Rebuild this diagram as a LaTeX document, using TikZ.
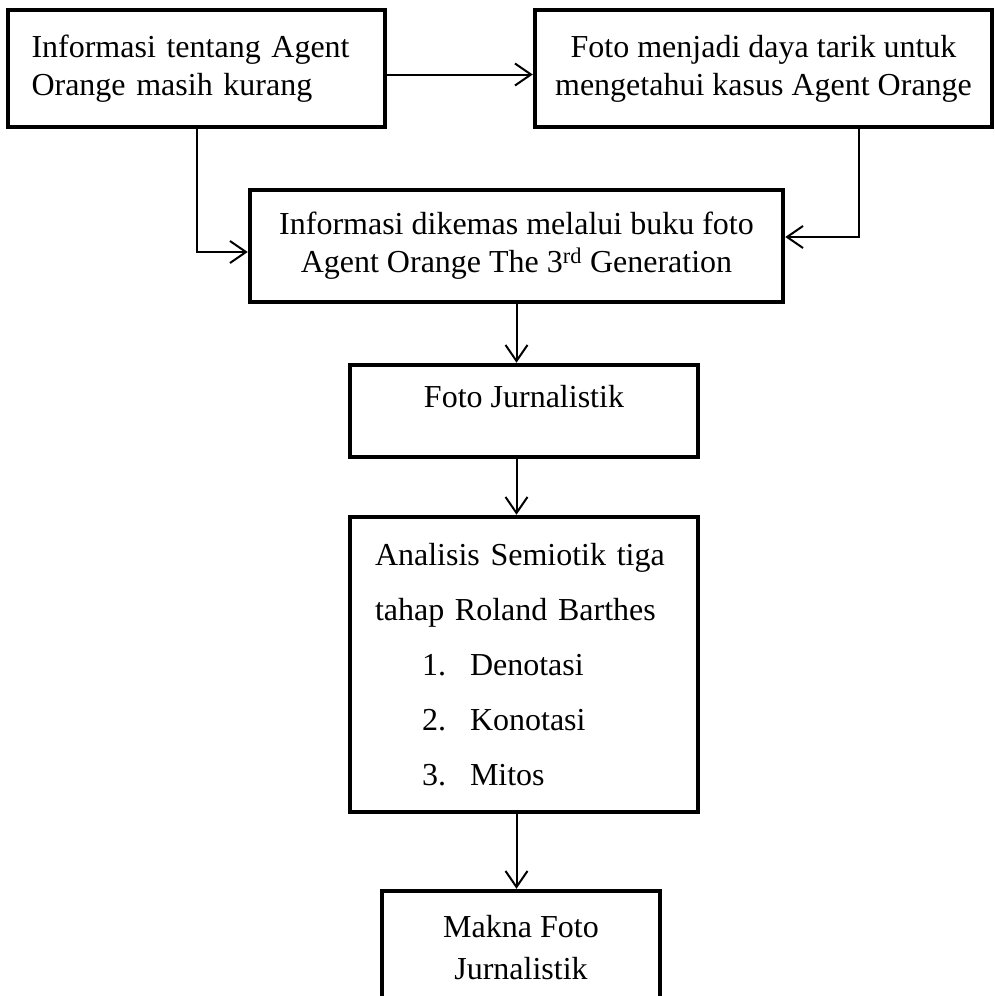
\documentclass[tikz,border=0pt]{standalone}
\usepackage{fontspec}
\setmainfont{Liberation Serif}
\usepackage{tikz}
\usetikzlibrary{arrows.meta, positioning, calc}

\begin{document}
\begin{tikzpicture}[
  x=1pt, y=-1pt,
  flowbox/.style={draw, line width=4.5pt, align=center, inner sep=0pt, font=\fontsize{32}{38}\selectfont},
  flowarrow/.style={-{Straight Barb[length=16pt, width=22pt]}, line width=2pt}
]
  \useasboundingbox (0,0) rectangle (994,996);

  % Top row
  \node[flowbox, minimum width=377pt, minimum height=117pt, text width=330pt, align=left] (info) at (196.5, 68.5) {Informasi tentang Agent\\Orange masih kurang};
  \node[flowbox, minimum width=457pt, minimum height=117pt] (foto) at (763.5, 68.5) {Foto menjadi daya tarik untuk\\mengetahui kasus Agent Orange};

  % Main column
  \node[flowbox, minimum width=533pt, minimum height=112pt] (kemas) at (516.5, 246) {Informasi dikemas melalui buku foto\\Agent Orange The 3\textsuperscript{rd} Generation};
  \node[flowbox, minimum width=348pt, minimum height=92pt, text depth=30pt] (jurnal) at (524, 411) {Foto Jurnalistik};
  \node[flowbox, minimum width=348pt, minimum height=295pt, text width=298pt, align=left, font=\fontsize{32}{55}\selectfont] (semiotik) at (524, 664.5) {Analisis Semiotik tiga\\
    \makebox[288pt][s]{tahap Roland Barthes}\\
    \hspace*{47pt}\makebox[48pt][l]{1.}Denotasi\\
    \hspace*{47pt}\makebox[48pt][l]{2.}Konotasi\\
    \hspace*{47pt}\makebox[48pt][l]{3.}Mitos};
  \node[flowbox, minimum width=278pt, minimum height=114pt, font=\fontsize{32}{42}\selectfont] (makna) at (521, 948) {Makna Foto\\Jurnalistik};

  \draw[flowarrow] ([yshift=-6pt]info.east) -- ([yshift=-6pt]foto.west);
  \draw[flowarrow] (info.south) |- ([yshift=-6pt]kemas.west);
  \draw[flowarrow] ([xshift=95.5pt]foto.south) |- ([yshift=9pt]kemas.east);
  \draw[flowarrow] (kemas.south) -- (kemas.south |- jurnal.north);
  \draw[flowarrow] (jurnal.south -| kemas.south) -- (semiotik.north -| kemas.south);
  \draw[flowarrow] (semiotik.south -| kemas.south) -- (makna.north -| kemas.south);
\end{tikzpicture}
\end{document}
